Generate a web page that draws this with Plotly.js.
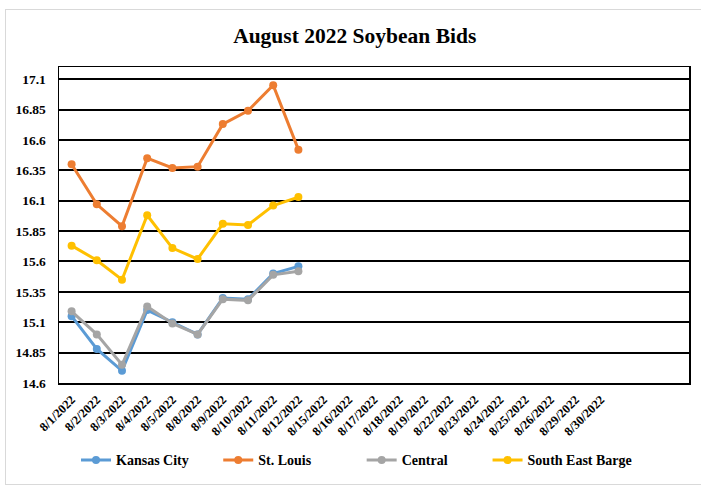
<!DOCTYPE html>
<html>
<head>
<meta charset="utf-8">
<script src="https://cdn.plot.ly/plotly-3.0.1.min.js"></script>
<style>
html,body{margin:0;padding:0;background:#fff;}
#chart{width:701px;height:487px;position:relative;}
#frame{position:absolute;left:5px;top:9px;width:700px;height:476px;border:1.5px solid #d9d9d9;pointer-events:none;box-sizing:border-box;}
</style>
</head>
<body>
<div id="chart"></div>
<div id="frame"></div>
<script>
const dates = ["8/1/2022","8/2/2022","8/3/2022","8/4/2022","8/5/2022","8/8/2022","8/9/2022","8/10/2022","8/11/2022","8/12/2022","8/15/2022","8/16/2022","8/17/2022","8/18/2022","8/19/2022","8/22/2022","8/23/2022","8/24/2022","8/25/2022","8/26/2022","8/29/2022","8/30/2022"];
const kansasCity = [15.15,14.88,14.70,15.20,15.10,15.00,15.30,15.29,15.50,15.56];
const stLouis = [16.40,16.07,15.89,16.45,16.37,16.38,16.73,16.84,17.05,16.52];
const central = [15.19,15.00,14.75,15.23,15.09,15.00,15.29,15.28,15.49,15.52];
const seBarge = [15.73,15.61,15.45,15.98,15.71,15.62,15.91,15.90,16.06,16.13];
const yTicks = [14.6,14.85,15.1,15.35,15.6,15.85,16.1,16.35,16.6,16.85,17.1];

const serif = "'Liberation Serif', 'Times New Roman', serif";
function pad(n){ return '&nbsp;'.repeat(n); }
function tr(name, vals, color, padN){
  return {x: dates.slice(0, vals.length), y: vals, name: '<b>' + name + '</b>' + pad(padN), type:'scatter', mode:'lines+markers',
    line:{color:color,width:3}, marker:{color:color,size:8}};
}
const data = [
  tr('Kansas City', kansasCity, '#5B9BD5', 7),
  tr('St. Louis', stLouis, '#ED7D31', 13),
  tr('Central', central, '#A5A5A5', 10),
  tr('South East Barge', seBarge, '#FFC000', 0)
];
const layout = {
  width:701, height:487,
  margin:{l:59, r:12, t:67, b:104, autoexpand:false},
  paper_bgcolor:'#fff', plot_bgcolor:'#fff',
  title:{text:'<b>August 2022 Soybean Bids</b>', font:{family:serif,size:21.5,color:'#000'}, x:0.506, xanchor:'center', y:0.928, yanchor:'middle'},
  xaxis:{type:'category', categoryarray:dates, categoryorder:'array', range:[-0.5,24.5],
    tickvals:dates, ticktext:dates.map(d=>'<b>'+d+'</b>'), tickangle:-45,
    tickfont:{family:serif,size:12.5,color:'#000'}, showgrid:false, zeroline:false,
    showline:true, linecolor:'#000', linewidth:1.5, mirror:true, ticks:'', ticklabelstandoff:3},
  yaxis:{range:[14.6,17.2], tickvals:yTicks, ticktext:yTicks.map(v=>'<b>'+v+'</b>'),
    tickfont:{family:serif,size:13.5,color:'#000'}, showgrid:true, gridcolor:'#000', gridwidth:2,
    zeroline:false, showline:true, linecolor:'#000', linewidth:1.5, mirror:true, ticks:'', ticklabelstandoff:9},
  legend:{orientation:'h', x:0.027, xanchor:'left', y:-0.245, yanchor:'middle',
    font:{family:serif,size:14,color:'#000'}, traceorder:'normal'},
  showlegend:true
};
Plotly.newPlot('chart', data, layout, {displayModeBar:false, staticPlot:true});
</script>
</body>
</html>
